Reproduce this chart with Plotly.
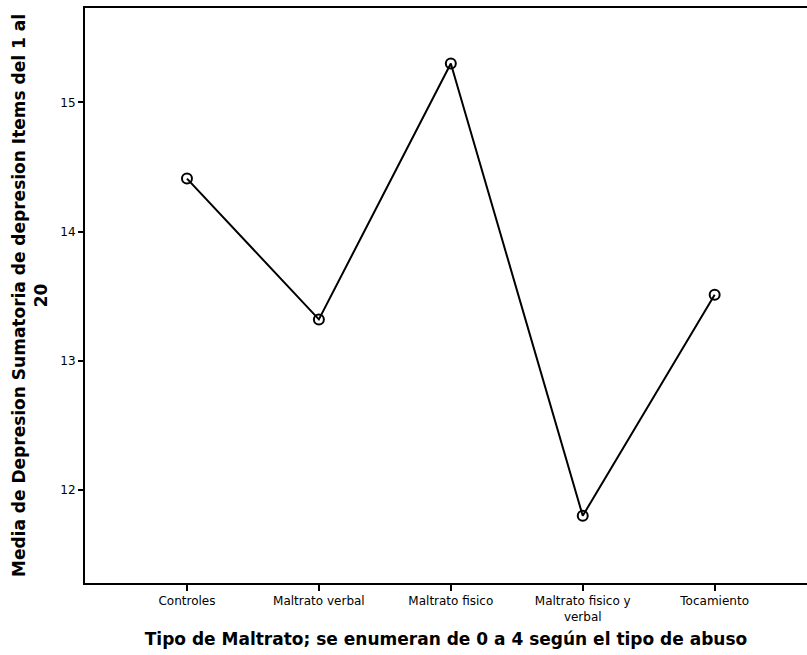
import plotly.graph_objects as go

# Mean depression score by type of abuse
categorias = ["Controles", "Maltrato verbal", "Maltrato fisico",
              "Maltrato fisico y<br>verbal", "Tocamiento"]
medias = [14.41, 13.32, 15.30, 11.80, 13.51]
y_ticks = [12, 13, 14, 15]

x_pos = list(range(len(categorias)))

fig = go.Figure()
fig.add_trace(go.Scatter(
    x=x_pos, y=medias,
    mode="lines+markers",
    line=dict(color="black", width=2),
    marker=dict(symbol="circle-open", size=10, color="black",
                line=dict(width=2, color="black")),
    showlegend=False,
    hoverinfo="skip",
))

fig.update_layout(
    width=807, height=655,
    margin=dict(l=85, r=0, t=8, b=72),
    paper_bgcolor="white", plot_bgcolor="white",
    font=dict(family="DejaVu Sans, sans-serif", color="black"),
)

fig.update_xaxes(
    range=[-0.773, 4.70],
    tickmode="array", tickvals=x_pos, ticktext=categorias,
    ticks="outside", ticklen=6, tickwidth=1.5, tickcolor="black",
    tickfont=dict(size=12, color="black"),
    showline=True, linecolor="black", linewidth=2, mirror=True,
    showgrid=False, zeroline=False,
    title=dict(text="<b>Tipo de Maltrato; se enumeran de 0 a 4 según el tipo de abuso</b>",
               font=dict(size=17), standoff=10),
    automargin=False,
)

fig.update_yaxes(
    range=[11.28, 15.73],
    tickmode="array", tickvals=y_ticks,
    ticks="outside", ticklen=5, tickwidth=1.5, tickcolor="black",
    tickfont=dict(size=12, color="black"),
    showline=True, linecolor="black", linewidth=2, mirror=True,
    showgrid=False, zeroline=False,
    title=dict(text="<b>Media de Depresion Sumatoria de depresion Items del 1 al<br>20</b>",
               font=dict(size=17), standoff=8),
    automargin=False,
)

fig.write_html("out.html")
